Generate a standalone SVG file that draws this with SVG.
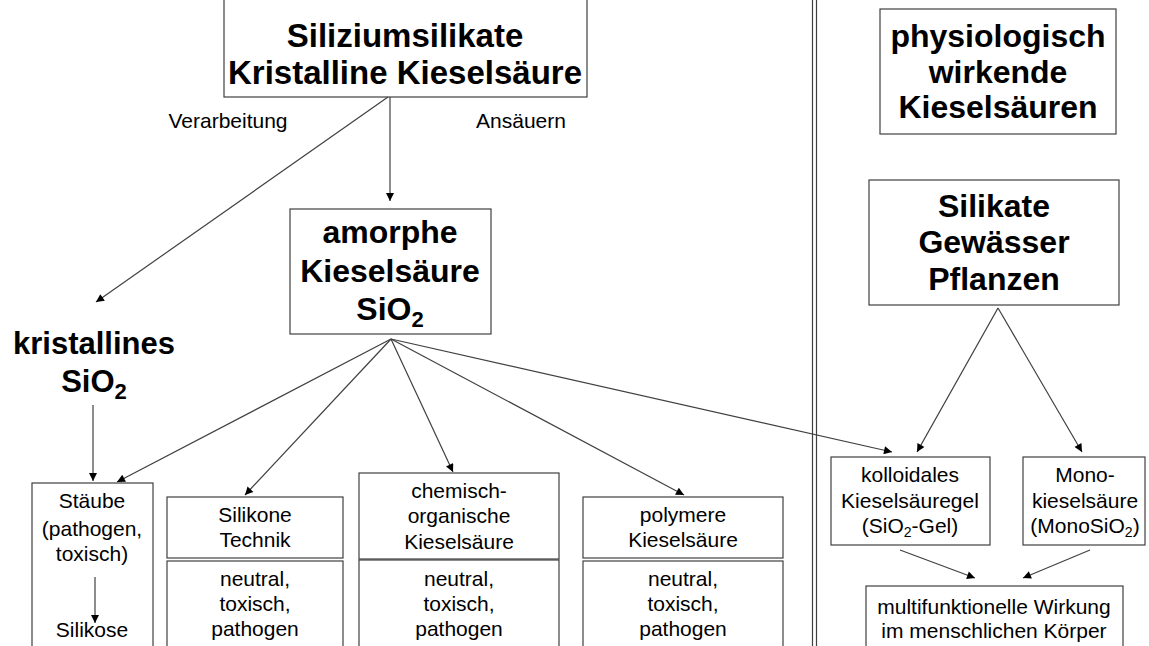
<svg xmlns="http://www.w3.org/2000/svg" width="1149" height="646" viewBox="0 0 1149 646">
<style>
.box{fill:#fff;stroke:#404040;stroke-width:1.2}
.b{font-family:"Liberation Sans",Arial,sans-serif;font-weight:bold;fill:#000;text-anchor:middle}
.r{font-family:"Liberation Sans",Arial,sans-serif;fill:#000;text-anchor:middle}
.big{font-size:32px}
.sm{font-size:21px}
.con line{stroke:#404040;stroke-width:1.2;marker-end:url(#ah)}
.sep{stroke:#404040;stroke-width:1.2}
</style>
<defs>
<marker id="ah" viewBox="0 0 10 10" refX="10" refY="5" markerWidth="10" markerHeight="8" markerUnits="userSpaceOnUse" orient="auto">
<path d="M0,0 L10,5 L0,10 z" fill="#000"/>
</marker>
</defs>
<rect width="1149" height="646" fill="#fff"/>

<g id="separator">
<line class="sep" x1="812.5" y1="0" x2="812.5" y2="646"/>
<line class="sep" x1="816.5" y1="0" x2="816.5" y2="646"/>
</g>

<g id="n-top">
<rect class="box" x="224" y="-2" width="363" height="99"/>
<text class="b" x="405" y="47" font-size="33">Siliziumsilikate</text>
<text class="b" x="405" y="84" font-size="33">Kristalline Kieselsäure</text>
</g>

<g id="lbl-verarbeitung"><text class="r sm" x="228" y="128">Verarbeitung</text></g>
<g id="lbl-ansaeuern"><text class="r sm" x="521" y="128">Ansäuern</text></g>

<g id="n-amorph">
<rect class="box" x="290" y="209" width="201" height="125"/>
<text class="b big" x="390" y="243">amorphe</text>
<text class="b big" x="390" y="282">Kieselsäure</text>
<text class="b big" x="390" y="320">SiO<tspan dy="7" font-size="22">2</tspan></text>
</g>

<g id="n-kristallin">
<text class="b" x="94" y="354" font-size="31">kristallines</text>
<text class="b" x="94" y="392" font-size="31">SiO<tspan dy="7" font-size="22">2</tspan></text>
</g>

<g id="n-staeube">
<rect class="box" x="32" y="483" width="121" height="170"/>
<text class="r sm" x="92" y="508">Stäube</text>
<text class="r sm" x="92" y="536">(pathogen,</text>
<text class="r sm" x="92" y="561">toxisch)</text>
<text class="r sm" x="92" y="637">Silikose</text>
</g>

<g id="n-silikone">
<rect class="box" x="167" y="497" width="176" height="61"/>
<rect class="box" x="167" y="561" width="176" height="92"/>
<text class="r sm" x="255" y="522">Silikone</text>
<text class="r sm" x="255" y="547">Technik</text>
<text class="r sm" x="255" y="586">neutral,</text>
<text class="r sm" x="255" y="611">toxisch,</text>
<text class="r sm" x="255" y="636">pathogen</text>
</g>

<g id="n-chemisch">
<rect class="box" x="359" y="473" width="200" height="86"/>
<rect class="box" x="359" y="560" width="200" height="93"/>
<text class="r sm" x="459" y="498">chemisch-</text>
<text class="r sm" x="459" y="523">organische</text>
<text class="r sm" x="459" y="549">Kieselsäure</text>
<text class="r sm" x="459" y="586">neutral,</text>
<text class="r sm" x="459" y="611">toxisch,</text>
<text class="r sm" x="459" y="636">pathogen</text>
</g>

<g id="n-polymer">
<rect class="box" x="583" y="497" width="200" height="61"/>
<rect class="box" x="583" y="561" width="200" height="92"/>
<text class="r sm" x="683" y="522">polymere</text>
<text class="r sm" x="683" y="547">Kieselsäure</text>
<text class="r sm" x="683" y="586">neutral,</text>
<text class="r sm" x="683" y="611">toxisch,</text>
<text class="r sm" x="683" y="636">pathogen</text>
</g>

<g id="n-physio">
<rect class="box" x="880" y="9" width="236" height="125"/>
<text class="b big" x="998" y="47">physiologisch</text>
<text class="b big" x="998" y="83">wirkende</text>
<text class="b big" x="998" y="118">Kieselsäuren</text>
</g>

<g id="n-silikate">
<rect class="box" x="869" y="180" width="250" height="125"/>
<text class="b big" x="994" y="217">Silikate</text>
<text class="b big" x="994" y="253">Gewässer</text>
<text class="b big" x="994" y="290">Pflanzen</text>
</g>

<g id="n-kolloid">
<rect class="box" x="831" y="457" width="159" height="88"/>
<text class="r sm" x="910" y="482">kolloidales</text>
<text class="r sm" x="910" y="508">Kieselsäuregel</text>
<text class="r sm" x="910" y="533">(SiO<tspan dy="4" font-size="14">2</tspan><tspan dy="-4">-Gel)</tspan></text>
</g>

<g id="n-mono">
<rect class="box" x="1023" y="457" width="122" height="88"/>
<text class="r sm" x="1085" y="482">Mono-</text>
<text class="r sm" x="1085" y="508">kieselsäure</text>
<text class="r sm" x="1085" y="533">(MonoSiO<tspan dy="4" font-size="14">2</tspan><tspan dy="-4">)</tspan></text>
</g>

<g id="n-multi">
<rect class="box" x="866" y="586" width="257" height="67"/>
<text class="r sm" x="994" y="614">multifunktionelle Wirkung</text>
<text class="r sm" x="994" y="638">im menschlichen Körper</text>
</g>

<g id="connectors" class="con">
<line x1="390" y1="97" x2="390" y2="201"/>
<line x1="388" y1="97" x2="96" y2="302"/>
<line x1="93" y1="405" x2="93" y2="481"/>
<line x1="95" y1="577" x2="95" y2="623"/>
<line x1="391" y1="339" x2="117" y2="482"/>
<line x1="391" y1="339" x2="245" y2="495"/>
<line x1="391" y1="339" x2="453" y2="472"/>
<line x1="391" y1="339" x2="684" y2="495"/>
<line x1="391" y1="339" x2="892" y2="452"/>
<line x1="998" y1="308" x2="917" y2="452"/>
<line x1="998" y1="308" x2="1082" y2="452"/>
<line x1="900" y1="550" x2="975" y2="578"/>
<line x1="1090" y1="550" x2="1023" y2="578"/>
</g>
</svg>
